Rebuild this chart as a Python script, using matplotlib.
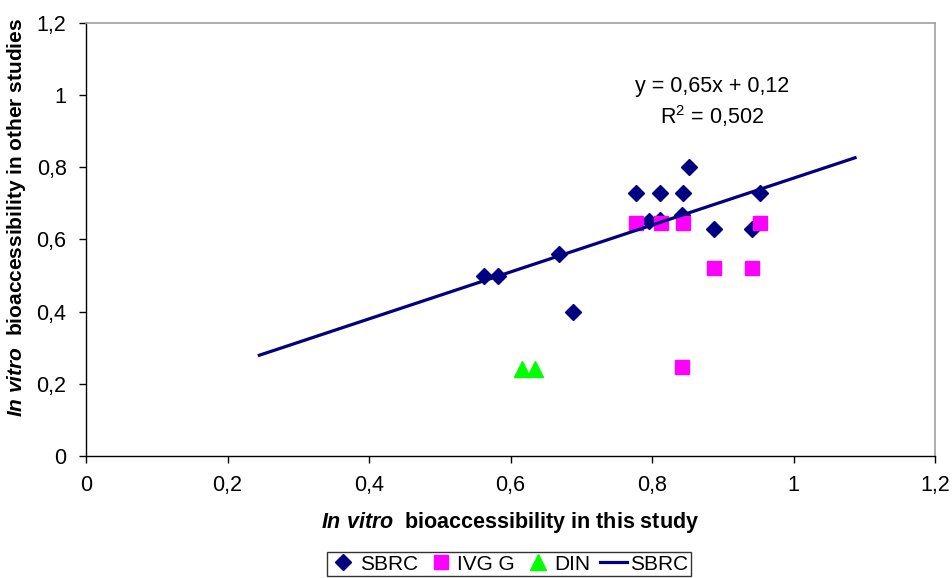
import matplotlib
matplotlib.use("Agg")
import matplotlib.pyplot as plt
from matplotlib.ticker import FuncFormatter, MultipleLocator

# Data
sbrc_x = [0.563, 0.582, 0.668, 0.689, 0.778, 0.812, 0.844, 0.853, 0.796, 0.812, 0.843, 0.887, 0.942, 0.952]
sbrc_y = [0.50, 0.50, 0.56, 0.40, 0.73, 0.73, 0.73, 0.80, 0.65, 0.655, 0.668, 0.63, 0.63, 0.73]
ivg_x = [0.778, 0.813, 0.844, 0.952, 0.887, 0.942, 0.843]
ivg_y = [0.645, 0.645, 0.645, 0.645, 0.52, 0.52, 0.247]
din_x = [0.616, 0.634]
din_y = [0.24, 0.24]
fit_slope = 0.65
fit_intercept = 0.12
fit_x = [0.245, 1.087]
eq_text = "y = 0,65x + 0,12"
r2_text = "R$^2$ = 0,502"

plt.rcParams['font.family'] = ['Liberation Sans', 'DejaVu Sans']
plt.rcParams['mathtext.fontset'] = 'custom'
plt.rcParams['mathtext.rm'] = 'Liberation Sans'
plt.rcParams['mathtext.it'] = 'Liberation Sans:italic'
plt.rcParams['mathtext.bf'] = 'Liberation Sans:bold'
plt.rcParams['mathtext.bfit'] = 'Liberation Sans:italic:bold'

FS = 15.5

fig = plt.figure(figsize=(9.52, 5.78), dpi=100)
ax = fig.add_axes([86/952, 1-456/578, (935-86)/952, (456-23)/578])

navy = '#000080'
ax.plot(sbrc_x, sbrc_y, 'D', color=navy, markersize=8.5, linestyle='none', label='SBRC', zorder=3)
ax.plot(ivg_x, ivg_y, 's', color='#FF00FF', markersize=10, linestyle='none', label='IVG G', zorder=4)
ax.plot(din_x, din_y, '^', color='#00FF00', markersize=11, linestyle='none', label='DIN', zorder=4)
fy = [fit_slope * x + fit_intercept for x in fit_x]
ax.plot(fit_x, fy, '-', color=navy, linewidth=2.3, label='SBRC', zorder=5)

ax.set_xlim(0, 1.2)
ax.set_ylim(0, 1.2)
ax.xaxis.set_major_locator(MultipleLocator(0.2))
ax.yaxis.set_major_locator(MultipleLocator(0.2))
fmt = FuncFormatter(lambda v, p: ('%g' % round(v, 2)).replace('.', ','))
ax.xaxis.set_major_formatter(fmt)
ax.yaxis.set_major_formatter(fmt)
ax.tick_params(direction='out', length=5, width=1, labelsize=FS, colors='black')
ax.tick_params(axis='x', pad=9)
ax.tick_params(axis='y', pad=9)
for s in ['top', 'right']:
    ax.spines[s].set_color('#a0a0a0')
    ax.spines[s].set_linewidth(1.2)
for s in ['left', 'bottom']:
    ax.spines[s].set_color('black')
    ax.spines[s].set_linewidth(1.0)

ax.set_xlabel(r'$\mathbfit{In\ vitro}$  bioaccessibility in this study', fontsize=FS, fontweight='bold', labelpad=10)
ax.set_ylabel(r'$\mathbfit{In\ vitro}$  bioaccessibility in other studies', fontsize=15, fontweight='bold')
ax.yaxis.set_label_coords(-0.0685, 0.55)

ax.text(0.885, 1.025, eq_text, fontsize=FS, ha='center', va='center')
ax.text(0.885, 0.942, r2_text, fontsize=FS, ha='center', va='center')

leg = fig.legend(loc='upper center', bbox_to_anchor=(509/952, 1-552/578), ncol=4, fontsize=15,
                 frameon=True, fancybox=False, edgecolor='black', borderpad=0.12, borderaxespad=0,
                 handlelength=1.3, handletextpad=0.15, columnspacing=0.45, markerscale=1.0)
leg.get_frame().set_linewidth(1.0)

fig.savefig('out.png', dpi=100)
